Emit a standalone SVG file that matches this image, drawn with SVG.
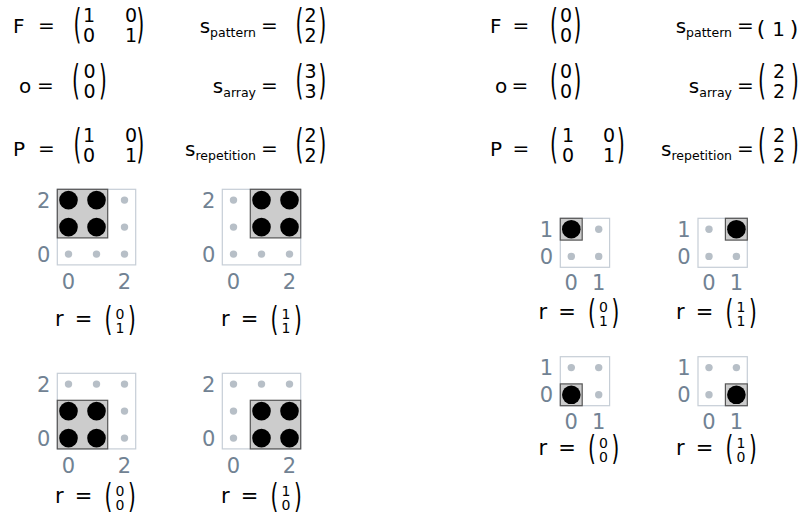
<svg xmlns="http://www.w3.org/2000/svg" width="809" height="517" viewBox="0 0 809 517">
<style>
text{font-family:"DejaVu Sans","Liberation Sans",sans-serif;fill:#000}
.eq{font-size:20px}
.m{font-size:19px;text-anchor:middle}
.sub{font-size:12.5px}
.p{font-size:20px;text-anchor:middle}
.p1{font-size:22px;text-anchor:middle}
.mid{text-anchor:middle}
.end{text-anchor:end}
.tk{font-size:21px;fill:#718293}
.tk.e{text-anchor:end}
.tk.c{text-anchor:middle}
.rl{font-size:21px}
.sm{font-size:14px;text-anchor:middle}
.frame{fill:none;stroke:#c6ced6;stroke-width:1.2}
.pat{fill:#cccccc;stroke:#555555;stroke-width:1.2}
.on{fill:#000}
.off{fill:#b7bfc7}
</style>
<rect width="809" height="517" fill="#fff"/>

<g id="eq-left">
  <text class="eq" x="13" y="33">F</text>
  <text class="eq mid" x="46.5" y="32">=</text>
  <text class="p" transform="translate(77.5,37.6) scale(1,2)">(</text>
  <text class="m" x="89" y="22">1</text><text class="m" x="131" y="22">0</text>
  <text class="m" x="89" y="42">0</text><text class="m" x="131" y="42">1</text>
  <text class="p" transform="translate(140.5,37.6) scale(1,2)">)</text>

  <text class="eq end" x="256" y="33">s<tspan class="sub" dy="4">pattern</tspan></text>
  <text class="eq mid" x="269.5" y="32">=</text>
  <text class="p" transform="translate(299.5,37.6) scale(1,2)">(</text>
  <text class="m" x="310.5" y="22">2</text><text class="m" x="310.5" y="42">2</text>
  <text class="p" transform="translate(322.5,37.6) scale(1,2)">)</text>

  <text class="eq mid" x="25" y="93">o</text>
  <text class="eq mid" x="45.5" y="92">=</text>
  <text class="p" transform="translate(76,93.6) scale(1,2)">(</text>
  <text class="m" x="89.5" y="78">0</text><text class="m" x="89.5" y="98">0</text>
  <text class="p" transform="translate(103,93.6) scale(1,2)">)</text>

  <text class="eq end" x="256" y="93">s<tspan class="sub" dy="4">array</tspan></text>
  <text class="eq mid" x="269.5" y="92">=</text>
  <text class="p" transform="translate(299.5,93.6) scale(1,2)">(</text>
  <text class="m" x="310.5" y="78">3</text><text class="m" x="310.5" y="98">3</text>
  <text class="p" transform="translate(322.5,93.6) scale(1,2)">)</text>

  <text class="eq" x="13" y="156">P</text>
  <text class="eq mid" x="46.5" y="155">=</text>
  <text class="p" transform="translate(77.5,157.6) scale(1,2)">(</text>
  <text class="m" x="89" y="142">1</text><text class="m" x="131" y="142">0</text>
  <text class="m" x="89" y="162">0</text><text class="m" x="131" y="162">1</text>
  <text class="p" transform="translate(140.5,157.6) scale(1,2)">)</text>

  <text class="eq end" x="256" y="156">s<tspan class="sub" dy="4">repetition</tspan></text>
  <text class="eq mid" x="269.5" y="155">=</text>
  <text class="p" transform="translate(299.5,157.6) scale(1,2)">(</text>
  <text class="m" x="310.5" y="142">2</text><text class="m" x="310.5" y="162">2</text>
  <text class="p" transform="translate(322.5,157.6) scale(1,2)">)</text>
</g>

<g id="eq-right">
  <text class="eq" x="490" y="33">F</text>
  <text class="eq mid" x="521" y="32">=</text>
  <text class="p" transform="translate(554,37.6) scale(1,2)">(</text>
  <text class="m" x="566" y="22">0</text><text class="m" x="566" y="42">0</text>
  <text class="p" transform="translate(577.5,37.6) scale(1,2)">)</text>

  <text class="eq end" x="732" y="33">s<tspan class="sub" dy="4">pattern</tspan></text>
  <text class="eq mid" x="745.5" y="32">=</text>
  <text class="p1" x="761" y="36">(</text>
  <text class="eq mid" x="778.5" y="36">1</text>
  <text class="p1" x="794" y="36">)</text>

  <text class="eq mid" x="501" y="93">o</text>
  <text class="eq mid" x="520" y="92">=</text>
  <text class="p" transform="translate(554,93.6) scale(1,2)">(</text>
  <text class="m" x="566" y="78">0</text><text class="m" x="566" y="98">0</text>
  <text class="p" transform="translate(577.5,93.6) scale(1,2)">)</text>

  <text class="eq end" x="732" y="93">s<tspan class="sub" dy="4">array</tspan></text>
  <text class="eq mid" x="745.5" y="92">=</text>
  <text class="p" transform="translate(762,93.6) scale(1,2)">(</text>
  <text class="m" x="779" y="78">2</text><text class="m" x="779" y="98">2</text>
  <text class="p" transform="translate(795,93.6) scale(1,2)">)</text>

  <text class="eq" x="490" y="156">P</text>
  <text class="eq mid" x="521" y="155">=</text>
  <text class="p" transform="translate(554,157.6) scale(1,2)">(</text>
  <text class="m" x="568" y="142">1</text><text class="m" x="609" y="142">0</text>
  <text class="m" x="568" y="162">0</text><text class="m" x="609" y="162">1</text>
  <text class="p" transform="translate(621,157.6) scale(1,2)">)</text>

  <text class="eq end" x="732" y="156">s<tspan class="sub" dy="4">repetition</tspan></text>
  <text class="eq mid" x="745.5" y="155">=</text>
  <text class="p" transform="translate(762,157.6) scale(1,2)">(</text>
  <text class="m" x="779" y="142">2</text><text class="m" x="779" y="162">2</text>
  <text class="p" transform="translate(795,157.6) scale(1,2)">)</text>
</g>

<!-- Left grids -->
<g id="grid-l-01">
  <rect class="frame" x="57.3" y="189.3" width="78.4" height="75.6"/>
  <rect class="pat" x="57.3" y="189.3" width="50.4" height="48.6"/>
  <circle class="on" cx="68.5" cy="200.1" r="9.3"/><circle class="on" cx="96.5" cy="200.1" r="9.3"/>
  <circle class="on" cx="68.5" cy="227.1" r="9.3"/><circle class="on" cx="96.5" cy="227.1" r="9.3"/>
  <circle class="off" cx="124.5" cy="200.1" r="3.7"/><circle class="off" cx="124.5" cy="227.1" r="3.7"/>
  <circle class="off" cx="68.5" cy="254.1" r="3.7"/><circle class="off" cx="96.5" cy="254.1" r="3.7"/><circle class="off" cx="124.5" cy="254.1" r="3.7"/>
  <text class="tk e" x="50.3" y="207.6">2</text><text class="tk e" x="50.3" y="261.6">0</text>
  <text class="tk c" x="68.5" y="289">0</text><text class="tk c" x="124.5" y="289">2</text>
  <text class="rl" x="55" y="326">r</text><text class="rl mid" x="83.5" y="326">=</text>
  <text class="p" transform="translate(108.5,330.9) scale(1,1.65)">(</text>
  <text class="sm" x="120" y="318.5">0</text><text class="sm" x="120" y="333">1</text>
  <text class="p" transform="translate(132,330.9) scale(1,1.65)">)</text>
</g>

<g id="grid-l-11">
  <rect class="frame" x="222.3" y="189.3" width="78.4" height="75.6"/>
  <rect class="pat" x="250.3" y="189.3" width="50.4" height="48.6"/>
  <circle class="on" cx="261.5" cy="200.1" r="9.3"/><circle class="on" cx="289.5" cy="200.1" r="9.3"/>
  <circle class="on" cx="261.5" cy="227.1" r="9.3"/><circle class="on" cx="289.5" cy="227.1" r="9.3"/>
  <circle class="off" cx="233.5" cy="200.1" r="3.7"/><circle class="off" cx="233.5" cy="227.1" r="3.7"/>
  <circle class="off" cx="233.5" cy="254.1" r="3.7"/><circle class="off" cx="261.5" cy="254.1" r="3.7"/><circle class="off" cx="289.5" cy="254.1" r="3.7"/>
  <text class="tk e" x="215.3" y="207.6">2</text><text class="tk e" x="215.3" y="261.6">0</text>
  <text class="tk c" x="233.5" y="289">0</text><text class="tk c" x="289.5" y="289">2</text>
  <text class="rl" x="221" y="326">r</text><text class="rl mid" x="249.5" y="326">=</text>
  <text class="p" transform="translate(274.5,330.9) scale(1,1.65)">(</text>
  <text class="sm" x="286" y="318.5">1</text><text class="sm" x="286" y="333">1</text>
  <text class="p" transform="translate(298,330.9) scale(1,1.65)">)</text>
</g>

<g id="grid-l-00">
  <rect class="frame" x="57.3" y="373.3" width="78.4" height="75.6"/>
  <rect class="pat" x="57.3" y="400.3" width="50.4" height="48.6"/>
  <circle class="on" cx="68.5" cy="411.1" r="9.3"/><circle class="on" cx="96.5" cy="411.1" r="9.3"/>
  <circle class="on" cx="68.5" cy="438.1" r="9.3"/><circle class="on" cx="96.5" cy="438.1" r="9.3"/>
  <circle class="off" cx="68.5" cy="384.1" r="3.7"/><circle class="off" cx="96.5" cy="384.1" r="3.7"/><circle class="off" cx="124.5" cy="384.1" r="3.7"/>
  <circle class="off" cx="124.5" cy="411.1" r="3.7"/><circle class="off" cx="124.5" cy="438.1" r="3.7"/>
  <text class="tk e" x="50.3" y="391.6">2</text><text class="tk e" x="50.3" y="445.6">0</text>
  <text class="tk c" x="68.5" y="473">0</text><text class="tk c" x="124.5" y="473">2</text>
  <text class="rl" x="55" y="503">r</text><text class="rl mid" x="83.5" y="503">=</text>
  <text class="p" transform="translate(108.5,507.9) scale(1,1.65)">(</text>
  <text class="sm" x="120" y="495.5">0</text><text class="sm" x="120" y="510">0</text>
  <text class="p" transform="translate(132,507.9) scale(1,1.65)">)</text>
</g>

<g id="grid-l-10">
  <rect class="frame" x="222.3" y="373.3" width="78.4" height="75.6"/>
  <rect class="pat" x="250.3" y="400.3" width="50.4" height="48.6"/>
  <circle class="on" cx="261.5" cy="411.1" r="9.3"/><circle class="on" cx="289.5" cy="411.1" r="9.3"/>
  <circle class="on" cx="261.5" cy="438.1" r="9.3"/><circle class="on" cx="289.5" cy="438.1" r="9.3"/>
  <circle class="off" cx="233.5" cy="384.1" r="3.7"/><circle class="off" cx="261.5" cy="384.1" r="3.7"/><circle class="off" cx="289.5" cy="384.1" r="3.7"/>
  <circle class="off" cx="233.5" cy="411.1" r="3.7"/><circle class="off" cx="233.5" cy="438.1" r="3.7"/>
  <text class="tk e" x="215.3" y="391.6">2</text><text class="tk e" x="215.3" y="445.6">0</text>
  <text class="tk c" x="233.5" y="473">0</text><text class="tk c" x="289.5" y="473">2</text>
  <text class="rl" x="221" y="503">r</text><text class="rl mid" x="249.5" y="503">=</text>
  <text class="p" transform="translate(274.5,507.9) scale(1,1.65)">(</text>
  <text class="sm" x="286" y="495.5">1</text><text class="sm" x="286" y="510">0</text>
  <text class="p" transform="translate(298,507.9) scale(1,1.65)">)</text>
</g>

<!-- Right grids -->
<g id="grid-r-01">
  <rect class="frame" x="560.3" y="218.3" width="49.3" height="49"/>
  <rect class="pat" x="560.3" y="218.3" width="21.9" height="21.8"/>
  <circle class="on" cx="571.3" cy="229.2" r="9.3"/>
  <circle class="off" cx="598.7" cy="229.2" r="3.7"/><circle class="off" cx="571.3" cy="256.4" r="3.7"/><circle class="off" cx="598.7" cy="256.4" r="3.7"/>
  <text class="tk e" x="553" y="236.7">1</text><text class="tk e" x="553" y="263.9">0</text>
  <text class="tk c" x="571.3" y="290">0</text><text class="tk c" x="598.7" y="290">1</text>
  <text class="rl" x="538.5" y="319">r</text><text class="rl mid" x="567" y="319">=</text>
  <text class="p" transform="translate(592,323.9) scale(1,1.65)">(</text>
  <text class="sm" x="603.5" y="311.5">0</text><text class="sm" x="603.5" y="326">1</text>
  <text class="p" transform="translate(615.5,323.9) scale(1,1.65)">)</text>
</g>

<g id="grid-r-11">
  <rect class="frame" x="698" y="218.3" width="49.3" height="49"/>
  <rect class="pat" x="725.4" y="218.3" width="21.9" height="21.8"/>
  <circle class="on" cx="736.4" cy="229.2" r="9.3"/>
  <circle class="off" cx="709" cy="229.2" r="3.7"/><circle class="off" cx="709" cy="256.4" r="3.7"/><circle class="off" cx="736.4" cy="256.4" r="3.7"/>
  <text class="tk e" x="690.7" y="236.7">1</text><text class="tk e" x="690.7" y="263.9">0</text>
  <text class="tk c" x="709" y="290">0</text><text class="tk c" x="736.4" y="290">1</text>
  <text class="rl" x="676" y="319">r</text><text class="rl mid" x="704.5" y="319">=</text>
  <text class="p" transform="translate(729.5,323.9) scale(1,1.65)">(</text>
  <text class="sm" x="741" y="311.5">1</text><text class="sm" x="741" y="326">1</text>
  <text class="p" transform="translate(753,323.9) scale(1,1.65)">)</text>
</g>

<g id="grid-r-00">
  <rect class="frame" x="560.3" y="356.7" width="49.3" height="49"/>
  <rect class="pat" x="560.3" y="383.9" width="21.9" height="21.8"/>
  <circle class="on" cx="571.3" cy="394.8" r="9.3"/>
  <circle class="off" cx="571.3" cy="367.6" r="3.7"/><circle class="off" cx="598.7" cy="367.6" r="3.7"/><circle class="off" cx="598.7" cy="394.8" r="3.7"/>
  <text class="tk e" x="553" y="375.1">1</text><text class="tk e" x="553" y="402.3">0</text>
  <text class="tk c" x="571.3" y="429">0</text><text class="tk c" x="598.7" y="429">1</text>
  <text class="rl" x="538.5" y="455">r</text><text class="rl mid" x="567" y="455">=</text>
  <text class="p" transform="translate(592,459.9) scale(1,1.65)">(</text>
  <text class="sm" x="603.5" y="447.5">0</text><text class="sm" x="603.5" y="462">0</text>
  <text class="p" transform="translate(615.5,459.9) scale(1,1.65)">)</text>
</g>

<g id="grid-r-10">
  <rect class="frame" x="698" y="356.7" width="49.3" height="49"/>
  <rect class="pat" x="725.4" y="383.9" width="21.9" height="21.8"/>
  <circle class="on" cx="736.4" cy="394.8" r="9.3"/>
  <circle class="off" cx="709" cy="367.6" r="3.7"/><circle class="off" cx="736.4" cy="367.6" r="3.7"/><circle class="off" cx="709" cy="394.8" r="3.7"/>
  <text class="tk e" x="690.7" y="375.1">1</text><text class="tk e" x="690.7" y="402.3">0</text>
  <text class="tk c" x="709" y="429">0</text><text class="tk c" x="736.4" y="429">1</text>
  <text class="rl" x="676" y="455">r</text><text class="rl mid" x="704.5" y="455">=</text>
  <text class="p" transform="translate(729.5,459.9) scale(1,1.65)">(</text>
  <text class="sm" x="741" y="447.5">1</text><text class="sm" x="741" y="462">0</text>
  <text class="p" transform="translate(753,459.9) scale(1,1.65)">)</text>
</g>

<g id="connectors"></g>
</svg>
